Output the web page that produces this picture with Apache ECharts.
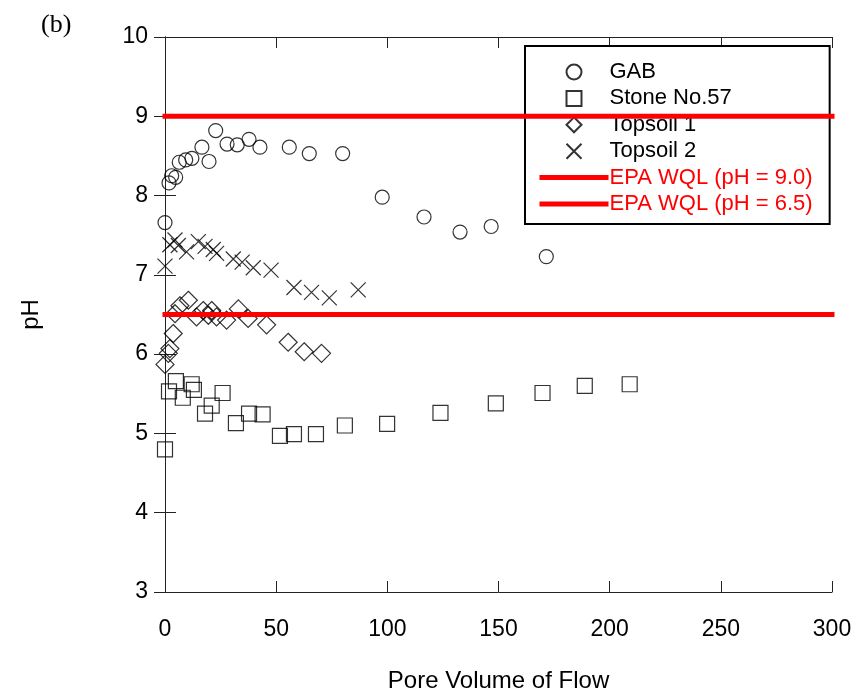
<!DOCTYPE html>
<html>
<head>
<meta charset="utf-8">
<script src="https://cdn.jsdelivr.net/npm/echarts@6/dist/echarts.min.js"></script>
<style>
  html, body { margin: 0; padding: 0; background: #fff; }
  #chart { width: 860px; height: 698px; }
</style>
</head>
<body>
<div id="chart"></div>
<script>
// Pore volume of flow (x) and effluent pH (y) for each filter medium
const pvGAB = [0, 1.8, 3.0, 4.8, 6.4, 9.3, 12.1, 16.6, 19.8, 22.8, 27.9, 32.5, 37.8, 42.7, 55.9, 64.9, 79.9, 97.7, 116.5, 132.7, 146.7, 171.5];
const phGAB = [7.66, 8.16, 8.25, 8.23, 8.42, 8.45, 8.47, 8.61, 8.43, 8.82, 8.65, 8.64, 8.71, 8.61, 8.61, 8.53, 8.53, 7.98, 7.73, 7.54, 7.61, 7.23];

const pvStone = [0, 1.8, 4.9, 8.0, 12.0, 13.0, 18.0, 21.0, 25.9, 31.9, 37.8, 43.9, 51.7, 58.0, 67.9, 80.9, 99.9, 123.9, 148.8, 169.8, 188.8, 209];
const phStone = [4.80, 5.53, 5.66, 5.45, 5.62, 5.55, 5.25, 5.35, 5.51, 5.13, 5.25, 5.24, 4.97, 4.99, 4.99, 5.10, 5.12, 5.26, 5.38, 5.51, 5.60, 5.62];

const pvTop1 = [0, 1.5, 2.2, 3.7, 4.5, 6.7, 10.5, 14.2, 17.2, 19.5, 21.0, 23.2, 27.7, 33.0, 37.4, 45.7, 55.4, 62.6, 70.4];
const phTop1 = [5.87, 6.01, 6.07, 6.26, 6.51, 6.61, 6.68, 6.47, 6.55, 6.49, 6.55, 6.47, 6.43, 6.57, 6.45, 6.37, 6.15, 6.03, 6.01];

const pvTop2 = [0, 2.2, 4.5, 6.0, 9.7, 15.0, 18.0, 21.7, 23.2, 30.7, 34.7, 39.7, 47.7, 58.0, 65.9, 73.9, 86.9];
const phTop2 = [7.11, 7.38, 7.44, 7.37, 7.29, 7.42, 7.36, 7.32, 7.27, 7.20, 7.16, 7.09, 7.06, 6.84, 6.78, 6.71, 6.81];

// EPA water quality limits
const wqlHigh = 9.0;
const wqlLow = 6.5;
const xRange = [0, 300];
const yRange = [3, 10];

const zip = (xs, ys) => xs.map((x, i) => [x, ys[i]]);

const FONT = '"Liberation Sans", Arial, sans-serif';
const AXIS_COLOR = '#222';
const RED = '#ff0000';

const markerStyle = {
  color: 'rgba(0,0,0,0)',
  borderColor: '#000',
  borderWidth: 1.2
};

const crossPath = 'path://M0,0L16,16M16,0L0,16';
const squarePath = 'path://M0,0H10V10H0Z';
const diamondPath = 'path://M5,0L10,5L5,10L0,5Z';

function scatter(name, symbol, size, xs, ys) {
  return {
    name: name,
    type: 'scatter',
    symbol: symbol,
    symbolSize: size,
    itemStyle: markerStyle,
    data: zip(xs, ys),
    z: 3
  };
}

function limitLine(name, value) {
  return {
    name: name,
    type: 'line',
    symbol: 'none',
    clip: false,
    lineStyle: { color: RED, width: 5, cap: 'square' },
    itemStyle: { color: 'rgba(0,0,0,0)', borderWidth: 0 },
    data: [[xRange[0], value], [xRange[1], value]],
    z: 5
  };
}

const chart = echarts.init(document.getElementById('chart'), null, { renderer: 'canvas' });

const axisCommon = {
  axisLine: { show: true, lineStyle: { color: AXIS_COLOR, width: 1 } },
  axisTick: { show: true, inside: true, length: 11, lineStyle: { color: AXIS_COLOR, width: 1 } },
  splitLine: { show: false }
};

const legendLine = { width: 5, color: RED, cap: 'butt' };

chart.setOption({
  animation: false,
  backgroundColor: '#fff',
  textStyle: { fontFamily: FONT },
  grid: { left: 165, top: 37, width: 667, height: 561, containLabel: false },
  title: {
    text: '(b)',
    left: 36,
    top: 7,
    textStyle: { fontFamily: '"Liberation Serif", "Times New Roman", serif', fontSize: 26, fontWeight: 'normal', color: '#000' }
  },
  legend: {
    orient: 'vertical',
    left: 525,
    top: 46,
    padding: [15, 17, 9, 12],
    itemWidth: 69,
    itemHeight: 15,
    itemGap: 4.4,
    symbolKeepAspect: true,
    backgroundColor: '#fff',
    borderColor: '#000',
    borderWidth: 2,
    borderRadius: 0,
    textStyle: { fontFamily: FONT, fontSize: 22, lineHeight: 21, color: '#000', padding: [0, 0, 0, -4] },
    data: [
      { name: 'GAB' },
      { name: 'Stone No.57', icon: squarePath },
      { name: 'Topsoil 1', icon: diamondPath },
      { name: 'Topsoil 2' },
      { name: 'EPA WQL (pH = 9.0)', textStyle: { color: RED }, lineStyle: legendLine },
      { name: 'EPA WQL (pH = 6.5)', textStyle: { color: RED }, lineStyle: legendLine }
    ]
  },
  xAxis: [
    Object.assign({
      type: 'value',
      min: xRange[0],
      max: xRange[1],
      interval: 50,
      position: 'bottom',
      name: 'Pore Volume of Flow',
      nameLocation: 'middle',
      nameGap: 77,
      nameTextStyle: { fontFamily: FONT, fontSize: 24, color: '#000' },
      axisLabel: { fontFamily: FONT, fontSize: 23, color: '#000', margin: 26 }
    }, axisCommon),
    Object.assign({
      type: 'value',
      min: xRange[0],
      max: xRange[1],
      interval: 50,
      position: 'top',
      axisLabel: { show: false }
    }, axisCommon)
  ],
  yAxis: [
    Object.assign({
      type: 'value',
      min: yRange[0],
      max: yRange[1],
      interval: 1,
      position: 'left',
      name: 'pH',
      nameLocation: 'middle',
      nameGap: 122,
      nameTextStyle: { fontFamily: FONT, fontSize: 24, color: '#000' },
      axisLabel: { fontFamily: FONT, fontSize: 23, color: '#000', margin: 17, padding: [4, 0, 0, 0] }
    }, axisCommon),
    Object.assign({
      type: 'value',
      min: yRange[0],
      max: yRange[1],
      interval: 1,
      position: 'right',
      axisLabel: { show: false }
    }, axisCommon)
  ],
  series: [
    scatter('GAB', 'circle', 14, pvGAB, phGAB),
    scatter('Stone No.57', 'rect', 15, pvStone, phStone),
    scatter('Topsoil 1', 'diamond', 18, pvTop1, phTop1),
    scatter('Topsoil 2', crossPath, 15, pvTop2, phTop2),
    limitLine('EPA WQL (pH = 9.0)', wqlHigh),
    limitLine('EPA WQL (pH = 6.5)', wqlLow)
  ]
});
</script>
</body>
</html>
